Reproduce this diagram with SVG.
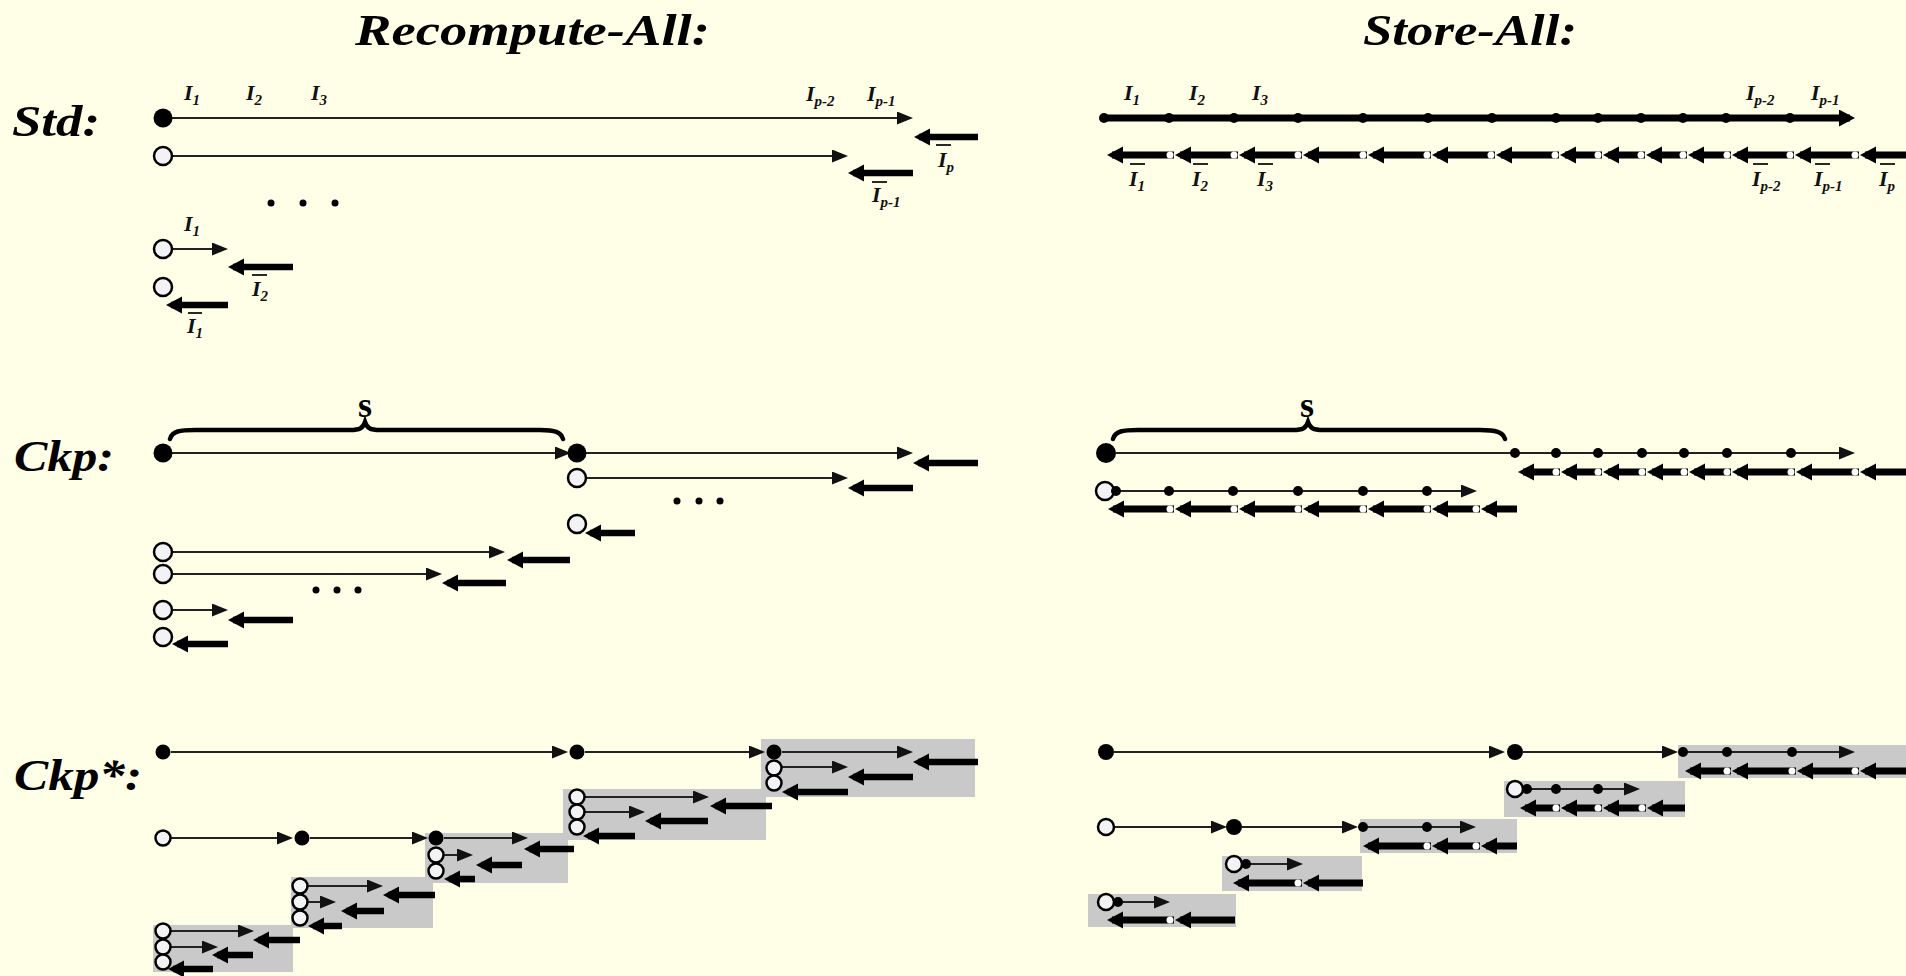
<svg xmlns="http://www.w3.org/2000/svg" width="1906" height="976" viewBox="0 0 1906 976">
<defs>
<style>
.t{font-family:"Liberation Serif",serif;font-weight:bold;font-style:italic;fill:#000}
.big{font-size:44px}
.lb{font-family:"Liberation Serif",serif;font-weight:bold;font-style:italic;font-size:22px;fill:#111}
.sb{font-size:15px}
.s{font-family:"Liberation Serif",serif;font-weight:bold;font-size:36px;fill:#000}
.thin{stroke:#222;stroke-width:2;fill:none;marker-end:url(#a)}
.thk{stroke:#000;stroke-width:6.5;fill:none;marker-end:url(#b)}
.thkS{stroke:#000;stroke-width:7;fill:none;marker-end:url(#b)}
.fc{fill:#000}
.oc{fill:#F3F3F6;stroke:#000;stroke-width:2.5}
.dot{fill:#000}
.wd{fill:#fff}
.box{fill:#C9C9C9}
.ob{stroke:#111;stroke-width:1.8}
.brace{fill:none;stroke:#000;stroke-width:4.5;stroke-linecap:round}
</style>
<marker id="a" markerUnits="userSpaceOnUse" markerWidth="18" markerHeight="14" refX="12" refY="6.5" orient="auto"><path d="M0,0 L16,6.5 L0,13 z" fill="#111"/></marker>
<marker id="b" markerUnits="userSpaceOnUse" markerWidth="18" markerHeight="18" refX="11" refY="8.5" orient="auto"><path d="M0,0 L16,8.5 L0,17 z" fill="#000"/></marker>
</defs>
<rect width="1906" height="976" fill="#FFFFE7"/>

<g id="titles">
<text class="t big" x="355" y="45" textLength="355" lengthAdjust="spacingAndGlyphs">Recompute-All:</text>
<text class="t big" x="1363" y="45" textLength="214" lengthAdjust="spacingAndGlyphs">Store-All:</text>
<text class="t big" x="12" y="136" textLength="88" lengthAdjust="spacingAndGlyphs">Std:</text>
<text class="t big" x="14" y="471" textLength="100" lengthAdjust="spacingAndGlyphs">Ckp:</text>
<text class="t big" x="14" y="790" textLength="128" lengthAdjust="spacingAndGlyphs">Ckp*:</text>
</g>

<g id="boxes">
<rect class="box" x="425" y="833" width="143" height="50"/>
<rect class="box" x="291" y="877" width="142" height="51"/>
<rect class="box" x="153" y="925" width="140" height="47"/>
<rect class="box" x="563" y="789" width="203" height="51"/>
<rect class="box" x="761" y="739" width="214" height="58"/>
<rect class="box" x="1678" y="745" width="228" height="33"/>
<rect class="box" x="1504" y="781" width="181" height="36"/>
<rect class="box" x="1360" y="819" width="157" height="34"/>
<rect class="box" x="1222" y="856" width="140" height="35"/>
<rect class="box" x="1088" y="894" width="148" height="33"/>
</g>

<g id="connectors">
<!-- Recompute-All Std -->
<line class="thin" x1="172" y1="118" x2="909" y2="118"/>
<line class="thin" x1="172" y1="156" x2="844" y2="156"/>
<line class="thk" x1="978" y1="137" x2="919" y2="137"/>
<line class="thk" x1="913" y1="173" x2="853" y2="173"/>
<line class="thin" x1="172" y1="249" x2="224" y2="249"/>
<line class="thk" x1="293" y1="267" x2="233" y2="267"/>
<line class="thk" x1="228" y1="305" x2="171" y2="305"/>
<!-- Store-All Std -->
<line class="thkS" x1="1104" y1="118" x2="1850" y2="118"/>
<line class="thkS" x1="1174" y1="155" x2="1112" y2="155"/>
<line class="thkS" x1="1238" y1="155" x2="1180" y2="155"/>
<line class="thkS" x1="1302" y1="155" x2="1244" y2="155"/>
<line class="thkS" x1="1367" y1="155" x2="1308" y2="155"/>
<line class="thkS" x1="1431" y1="155" x2="1373" y2="155"/>
<line class="thkS" x1="1495" y1="155" x2="1437" y2="155"/>
<line class="thkS" x1="1559" y1="155" x2="1501" y2="155"/>
<line class="thkS" x1="1602" y1="155" x2="1565" y2="155"/>
<line class="thkS" x1="1645" y1="155" x2="1608" y2="155"/>
<line class="thkS" x1="1687" y1="155" x2="1651" y2="155"/>
<line class="thkS" x1="1731" y1="155" x2="1693" y2="155"/>
<line class="thkS" x1="1794" y1="155" x2="1737" y2="155"/>
<line class="thkS" x1="1859" y1="155" x2="1800" y2="155"/>
<line class="thkS" x1="1912" y1="155" x2="1865" y2="155"/>
<!-- Recompute-All Ckp -->
<path class="brace" d="M170,439 C172,431 180,430 195,430 L350,430 C360,430 363,428 365,422 C367,428 370,430 380,430 L540,430 C555,430 561,432 563,439"/>
<line class="thin" x1="172" y1="453" x2="567" y2="453"/>
<line class="thin" x1="586" y1="453" x2="909" y2="453"/>
<line class="thk" x1="978" y1="463" x2="918" y2="463"/>
<line class="thin" x1="586" y1="478" x2="844" y2="478"/>
<line class="thk" x1="913" y1="488" x2="853" y2="488"/>
<line class="thk" x1="635" y1="533" x2="590" y2="533"/>
<line class="thin" x1="172" y1="552" x2="501" y2="552"/>
<line class="thk" x1="570" y1="560" x2="512" y2="560"/>
<line class="thin" x1="172" y1="574" x2="438" y2="574"/>
<line class="thk" x1="506" y1="583" x2="447" y2="583"/>
<line class="thin" x1="172" y1="610" x2="224" y2="610"/>
<line class="thk" x1="293" y1="620" x2="233" y2="620"/>
<line class="thk" x1="228" y1="644" x2="177" y2="644"/>
<!-- Store-All Ckp -->
<path class="brace" d="M1113,439 C1115,431 1123,430 1138,430 L1293,430 C1303,430 1306,428 1308,422 C1310,428 1313,430 1323,430 L1480,430 C1496,430 1503,432 1505,439"/>
<line class="thin" x1="1116" y1="453" x2="1851" y2="453"/>
<line class="thkS" x1="1560" y1="472" x2="1523" y2="472"/>
<line class="thkS" x1="1602" y1="472" x2="1566" y2="472"/>
<line class="thkS" x1="1646" y1="472" x2="1608" y2="472"/>
<line class="thkS" x1="1688" y1="472" x2="1652" y2="472"/>
<line class="thkS" x1="1731" y1="472" x2="1694" y2="472"/>
<line class="thkS" x1="1795" y1="472" x2="1737" y2="472"/>
<line class="thkS" x1="1859" y1="472" x2="1801" y2="472"/>
<line class="thkS" x1="1912" y1="472" x2="1865" y2="472"/>
<line class="thin" x1="1117" y1="491" x2="1473" y2="491"/>
<line class="thkS" x1="1174" y1="509" x2="1113" y2="509"/>
<line class="thkS" x1="1238" y1="509" x2="1180" y2="509"/>
<line class="thkS" x1="1302" y1="509" x2="1244" y2="509"/>
<line class="thkS" x1="1367" y1="509" x2="1308" y2="509"/>
<line class="thkS" x1="1431" y1="509" x2="1373" y2="509"/>
<line class="thkS" x1="1480" y1="509" x2="1437" y2="509"/>
<line class="thkS" x1="1517" y1="509" x2="1486" y2="509"/>
<!-- Recompute-All Ckp* -->
<line class="thin" x1="171" y1="752" x2="564" y2="752"/>
<line class="thin" x1="585" y1="752" x2="761" y2="752"/>
<line class="thin" x1="171" y1="838" x2="289" y2="838"/>
<line class="thin" x1="310" y1="838" x2="424" y2="838"/>
<line class="thin" x1="444" y1="838" x2="524" y2="838"/>
<line class="thk" x1="574" y1="849" x2="529" y2="849"/>
<line class="thin" x1="444" y1="855" x2="469" y2="855"/>
<line class="thk" x1="522" y1="865" x2="481" y2="865"/>
<line class="thk" x1="475" y1="879" x2="449" y2="879"/>
<line class="thin" x1="308" y1="886" x2="379" y2="886"/>
<line class="thk" x1="435" y1="895" x2="388" y2="895"/>
<line class="thin" x1="308" y1="902" x2="332" y2="902"/>
<line class="thk" x1="384" y1="911" x2="346" y2="911"/>
<line class="thk" x1="342" y1="926" x2="313" y2="926"/>
<line class="thin" x1="171" y1="931" x2="250" y2="931"/>
<line class="thk" x1="300" y1="940" x2="258" y2="940"/>
<line class="thin" x1="171" y1="947" x2="214" y2="947"/>
<line class="thk" x1="253" y1="955" x2="217" y2="955"/>
<line class="thk" x1="213" y1="969" x2="173" y2="969"/>
<line class="thin" x1="585" y1="797" x2="705" y2="797"/>
<line class="thk" x1="772" y1="806" x2="715" y2="806"/>
<line class="thin" x1="585" y1="812" x2="641" y2="812"/>
<line class="thk" x1="708" y1="821" x2="650" y2="821"/>
<line class="thk" x1="635" y1="836" x2="588" y2="836"/>
<line class="thin" x1="782" y1="752" x2="909" y2="752"/>
<line class="thk" x1="978" y1="762" x2="918" y2="762"/>
<line class="thin" x1="782" y1="767" x2="844" y2="767"/>
<line class="thk" x1="913" y1="777" x2="853" y2="777"/>
<line class="thk" x1="848" y1="792" x2="787" y2="792"/>
<!-- Store-All Ckp* -->
<line class="thin" x1="1114" y1="752" x2="1501" y2="752"/>
<line class="thin" x1="1523" y1="752" x2="1674" y2="752"/>
<line class="thin" x1="1683" y1="752" x2="1851" y2="752"/>
<line class="thkS" x1="1731" y1="771" x2="1690" y2="771"/>
<line class="thkS" x1="1796" y1="771" x2="1737" y2="771"/>
<line class="thkS" x1="1859" y1="771" x2="1802" y2="771"/>
<line class="thkS" x1="1912" y1="771" x2="1865" y2="771"/>
<line class="thin" x1="1528" y1="789" x2="1636" y2="789"/>
<line class="thkS" x1="1560" y1="808" x2="1525" y2="808"/>
<line class="thkS" x1="1602" y1="808" x2="1566" y2="808"/>
<line class="thkS" x1="1646" y1="808" x2="1608" y2="808"/>
<line class="thkS" x1="1685" y1="808" x2="1652" y2="808"/>
<line class="thin" x1="1114" y1="827" x2="1223" y2="827"/>
<line class="thin" x1="1242" y1="827" x2="1354" y2="827"/>
<line class="thin" x1="1363" y1="827" x2="1472" y2="827"/>
<line class="thkS" x1="1431" y1="846" x2="1368" y2="846"/>
<line class="thkS" x1="1480" y1="846" x2="1437" y2="846"/>
<line class="thkS" x1="1517" y1="846" x2="1486" y2="846"/>
<line class="thin" x1="1246" y1="864" x2="1299" y2="864"/>
<line class="thkS" x1="1302" y1="883" x2="1238" y2="883"/>
<line class="thkS" x1="1363" y1="883" x2="1308" y2="883"/>
<line class="thin" x1="1118" y1="902" x2="1166" y2="902"/>
<line class="thkS" x1="1174" y1="920" x2="1112" y2="920"/>
<line class="thkS" x1="1235" y1="920" x2="1180" y2="920"/>
</g>

<g id="ra-std">
<circle class="fc" cx="163" cy="118" r="9.5"/>
<circle class="oc" cx="163" cy="156" r="9"/>
<circle class="dot" cx="271" cy="203" r="3.5"/>
<circle class="dot" cx="303" cy="203" r="3.5"/>
<circle class="dot" cx="335" cy="203" r="3.5"/>
<circle class="oc" cx="163" cy="249" r="9"/>
<circle class="oc" cx="163" cy="287" r="9"/>
</g>

<g id="sa-std">
<circle class="dot" cx="1104" cy="118" r="5"/>
<g class="dot">
<circle cx="1169" cy="118" r="5"/><circle cx="1234" cy="118" r="5"/><circle cx="1298" cy="118" r="5"/><circle cx="1363" cy="118" r="5"/><circle cx="1428" cy="118" r="5"/><circle cx="1492" cy="118" r="5"/><circle cx="1556" cy="118" r="5"/><circle cx="1598" cy="118" r="5"/><circle cx="1641" cy="118" r="5"/><circle cx="1683" cy="118" r="5"/><circle cx="1726" cy="118" r="5"/><circle cx="1790" cy="118" r="5"/>
</g>
<g class="wd">
<circle cx="1170" cy="155" r="3.5"/><circle cx="1234" cy="155" r="3.5"/><circle cx="1298" cy="155" r="3.5"/><circle cx="1363" cy="155" r="3.5"/><circle cx="1427" cy="155" r="3.5"/><circle cx="1491" cy="155" r="3.5"/><circle cx="1555" cy="155" r="3.5"/><circle cx="1598" cy="155" r="3.5"/><circle cx="1641" cy="155" r="3.5"/><circle cx="1683" cy="155" r="3.5"/><circle cx="1727" cy="155" r="3.5"/><circle cx="1790" cy="155" r="3.5"/><circle cx="1855" cy="155" r="3.5"/>
</g>
</g>

<g id="ra-ckp">
<text class="s" x="365" y="417" text-anchor="middle">s</text>
<circle class="fc" cx="163" cy="453" r="9.5"/>
<circle class="fc" cx="577" cy="453" r="9.5"/>
<circle class="oc" cx="577" cy="478" r="9"/>
<circle class="dot" cx="677" cy="501" r="3.5"/><circle class="dot" cx="699" cy="501" r="3.5"/><circle class="dot" cx="720" cy="501" r="3.5"/>
<circle class="oc" cx="577" cy="524" r="9"/>
<circle class="oc" cx="163" cy="552" r="9"/>
<circle class="oc" cx="163" cy="574" r="9"/>
<circle class="dot" cx="316" cy="590" r="3.5"/><circle class="dot" cx="337" cy="590" r="3.5"/><circle class="dot" cx="358" cy="590" r="3.5"/>
<circle class="oc" cx="163" cy="610" r="9"/>
<circle class="oc" cx="163" cy="637" r="9"/>
</g>

<g id="sa-ckp">
<text class="s" x="1307" y="417" text-anchor="middle">s</text>
<circle class="fc" cx="1106" cy="453" r="10"/>
<g class="dot">
<circle cx="1515" cy="453" r="5"/><circle cx="1556" cy="453" r="5"/><circle cx="1598" cy="453" r="5"/><circle cx="1642" cy="453" r="5"/><circle cx="1684" cy="453" r="5"/><circle cx="1727" cy="453" r="5"/><circle cx="1791" cy="453" r="5"/>
<circle cx="1169" cy="491" r="5"/><circle cx="1233" cy="491" r="5"/><circle cx="1298" cy="491" r="5"/><circle cx="1363" cy="491" r="5"/><circle cx="1427" cy="491" r="5"/>
</g>
<circle class="oc" cx="1105" cy="491" r="9"/>
<circle class="dot" cx="1116" cy="491" r="5"/>
<g class="wd">
<circle cx="1556" cy="472" r="3.5"/><circle cx="1598" cy="472" r="3.5"/><circle cx="1642" cy="472" r="3.5"/><circle cx="1684" cy="472" r="3.5"/><circle cx="1727" cy="472" r="3.5"/><circle cx="1791" cy="472" r="3.5"/><circle cx="1855" cy="472" r="3.5"/>
<circle cx="1170" cy="509" r="3.5"/><circle cx="1234" cy="509" r="3.5"/><circle cx="1298" cy="509" r="3.5"/><circle cx="1363" cy="509" r="3.5"/><circle cx="1427" cy="509" r="3.5"/><circle cx="1476" cy="509" r="3.5"/>
</g>
</g>

<g id="ra-ckpstar">
<circle class="fc" cx="163" cy="752" r="7.5"/>
<circle class="fc" cx="577" cy="752" r="7.5"/>
<circle class="oc" cx="163" cy="838" r="7.5"/>
<circle class="fc" cx="302" cy="838" r="7.5"/>
<circle class="fc" cx="436" cy="838" r="7.5"/>
<circle class="oc" cx="436" cy="855" r="7.5"/>
<circle class="oc" cx="436" cy="871" r="7.5"/>
<circle class="oc" cx="300" cy="886" r="7.5"/>
<circle class="oc" cx="300" cy="902" r="7.5"/>
<circle class="oc" cx="300" cy="918" r="7.5"/>
<circle class="oc" cx="163" cy="931" r="7.5"/>
<circle class="oc" cx="163" cy="947" r="7.5"/>
<circle class="oc" cx="163" cy="962" r="7.5"/>
<circle class="oc" cx="577" cy="797" r="7.5"/>
<circle class="oc" cx="577" cy="812" r="7.5"/>
<circle class="oc" cx="577" cy="827" r="7.5"/>
<circle class="fc" cx="774" cy="752" r="7.5"/>
<circle class="oc" cx="774" cy="768" r="7.5"/>
<circle class="oc" cx="774" cy="783" r="7.5"/>
</g>

<g id="sa-ckpstar">
<circle class="fc" cx="1106" cy="752" r="8"/>
<circle class="fc" cx="1515" cy="752" r="8"/>
<circle class="oc" cx="1106" cy="827" r="8"/>
<circle class="fc" cx="1234" cy="827" r="8"/>
<g class="dot">
<circle cx="1683" cy="752" r="5"/><circle cx="1727" cy="752" r="5"/><circle cx="1792" cy="752" r="5"/>
<circle cx="1556" cy="789" r="5"/><circle cx="1598" cy="789" r="5"/>
<circle cx="1363" cy="827" r="5"/><circle cx="1427" cy="827" r="5"/>
</g>
<circle class="oc" cx="1515" cy="789" r="8"/><circle class="dot" cx="1527" cy="789" r="5"/>
<circle class="oc" cx="1234" cy="864" r="8"/><circle class="dot" cx="1246" cy="864" r="5"/>
<circle class="oc" cx="1106" cy="902" r="8"/><circle class="dot" cx="1118" cy="902" r="5"/>
<g class="wd">
<circle cx="1727" cy="771" r="3.5"/><circle cx="1792" cy="771" r="3.5"/><circle cx="1855" cy="771" r="3.5"/>
<circle cx="1556" cy="808" r="3.5"/><circle cx="1598" cy="808" r="3.5"/><circle cx="1642" cy="808" r="3.5"/>
<circle cx="1427" cy="846" r="3.5"/><circle cx="1476" cy="846" r="3.5"/>
<circle cx="1298" cy="883" r="3.5"/>
<circle cx="1170" cy="920" r="3.5"/>
</g>
</g>

<g id="labels">
<text class="lb" x="184" y="100">I<tspan class="sb" dy="5">1</tspan></text>
<text class="lb" x="246" y="100">I<tspan class="sb" dy="5">2</tspan></text>
<text class="lb" x="311" y="100">I<tspan class="sb" dy="5">3</tspan></text>
<text class="lb" x="806" y="101">I<tspan class="sb" dy="5">p-2</tspan></text>
<text class="lb" x="867" y="101">I<tspan class="sb" dy="5">p-1</tspan></text>
<text class="lb" x="938" y="167">I<tspan class="sb" dy="5">p</tspan></text>
<line class="ob" x1="936" y1="145" x2="951" y2="145"/>
<text class="lb" x="872" y="202">I<tspan class="sb" dy="5">p-1</tspan></text>
<line class="ob" x1="872" y1="182" x2="887" y2="182"/>
<text class="lb" x="184" y="231">I<tspan class="sb" dy="5">1</tspan></text>
<text class="lb" x="252" y="296">I<tspan class="sb" dy="5">2</tspan></text>
<line class="ob" x1="252" y1="275" x2="267" y2="275"/>
<text class="lb" x="187" y="333">I<tspan class="sb" dy="5">1</tspan></text>
<line class="ob" x1="188" y1="313" x2="202" y2="313"/>

<text class="lb" x="1124" y="100">I<tspan class="sb" dy="5">1</tspan></text>
<text class="lb" x="1189" y="100">I<tspan class="sb" dy="5">2</tspan></text>
<text class="lb" x="1252" y="100">I<tspan class="sb" dy="5">3</tspan></text>
<text class="lb" x="1746" y="100">I<tspan class="sb" dy="5">p-2</tspan></text>
<text class="lb" x="1811" y="100">I<tspan class="sb" dy="5">p-1</tspan></text>
<text class="lb" x="1129" y="186">I<tspan class="sb" dy="5">1</tspan></text>
<line class="ob" x1="1130" y1="164" x2="1145" y2="164"/>
<text class="lb" x="1192" y="186">I<tspan class="sb" dy="5">2</tspan></text>
<line class="ob" x1="1193" y1="164" x2="1208" y2="164"/>
<text class="lb" x="1257" y="186">I<tspan class="sb" dy="5">3</tspan></text>
<line class="ob" x1="1258" y1="164" x2="1273" y2="164"/>
<text class="lb" x="1752" y="186">I<tspan class="sb" dy="5">p-2</tspan></text>
<line class="ob" x1="1753" y1="164" x2="1768" y2="164"/>
<text class="lb" x="1814" y="186">I<tspan class="sb" dy="5">p-1</tspan></text>
<line class="ob" x1="1815" y1="164" x2="1830" y2="164"/>
<text class="lb" x="1879" y="186">I<tspan class="sb" dy="5">p</tspan></text>
<line class="ob" x1="1880" y1="164" x2="1895" y2="164"/>
</g>
</svg>
